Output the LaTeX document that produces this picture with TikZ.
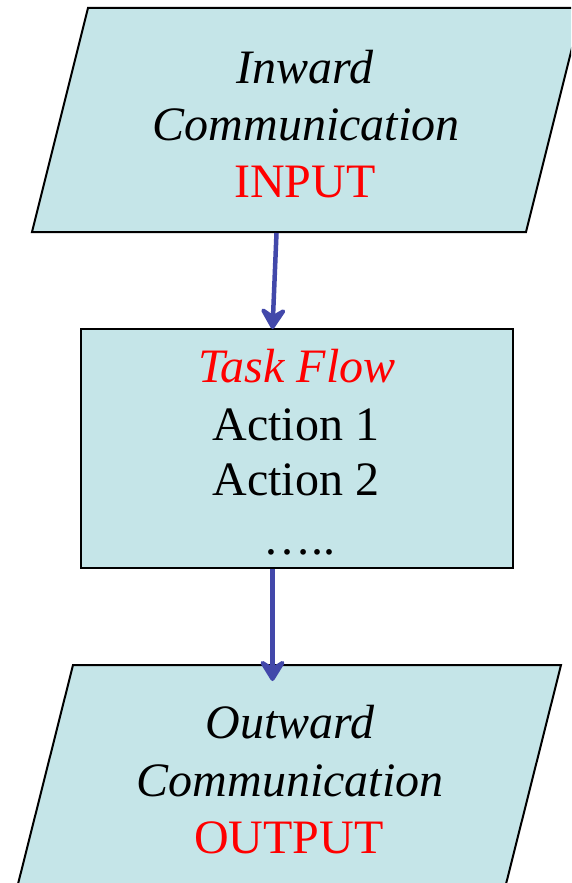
\documentclass[tikz,border=0pt]{standalone}
\usepackage{fontspec}
\setmainfont{Liberation Serif}
\usetikzlibrary{arrows.meta}
\definecolor{boxfill}{RGB}{197,229,232}
\definecolor{flowblue}{RGB}{66,72,170}
\definecolor{hotred}{RGB}{255,0,0}
\tikzset{
  boxshape/.style={draw=black, line width=2pt, fill=boxfill, line join=miter},
  txt/.style={anchor=base, inner sep=0pt, font=\fontsize{48}{57}\selectfont},
  flowhead/.tip={Stealth[length=26pt 0, width=32pt 0, inset=10pt 0, line join=round]},
  flow/.style={draw=flowblue, line width=4.5pt, -flowhead},
}
\begin{document}
\begin{tikzpicture}[x=1pt, y=-1pt]
  \useasboundingbox (0,0) rectangle (571,883);
  \begin{scope}
    \clip (0,0) rectangle (571,883);
    % input parallelogram
    \path[boxshape] (88,8) -- (582,8) -- (526,232) -- (32,232) -- cycle;
    % task box
    \path[boxshape] (80.5,329) rectangle (512.5,568);
    % output parallelogram
    \path[boxshape] (73,665) -- (561,665) -- (502,900) -- (14,900) -- cycle;
  \end{scope}

  \coordinate (inBottom) at (276.5,233);
  \coordinate (taskTop) at (272.5,329);
  \coordinate (taskBottom) at (272.5,569);
  \coordinate (outTop) at (272.5,681);

  % input text
  \node[txt] (inA) at (305,83) {\itshape Inward};
  \node[txt] (inB) at (306,140) {\itshape Communication};
  \node[txt, text=hotred] (inC) at (305,197) {INPUT};

  % task text
  \node[txt, text=hotred] (tA) at (297,382) {\itshape Task Flow};
  \node[txt] (tB) at (296,440) {Action 1};
  \node[txt] (tC) at (296,495) {Action 2};
  \node[txt] (tD) at (299,554) {…..};

  % output text
  \node[txt] (outA) at (290,738) {\itshape Outward};
  \node[txt] (outB) at (290,796) {\itshape Communication};
  \node[txt, text=hotred] (outC) at (289,853) {OUTPUT};

  % connectors
  \draw[flow] (inBottom) -- (taskTop);
  \draw[flow] (taskBottom) -- (outTop);
\end{tikzpicture}
\end{document}
